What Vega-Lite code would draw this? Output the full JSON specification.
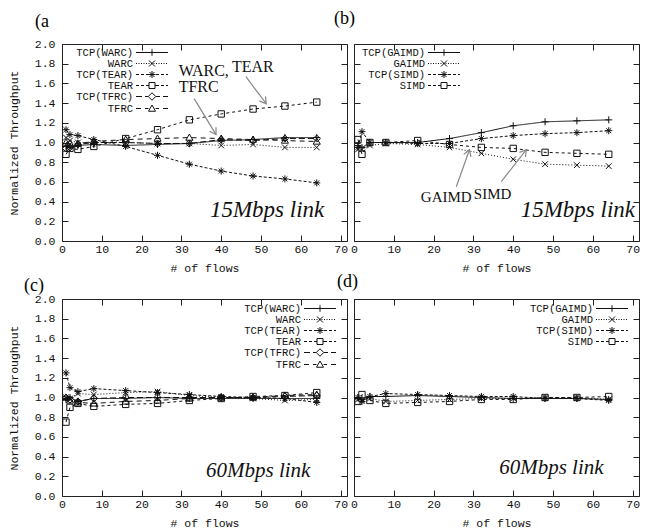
{
"$schema": "https://vega.github.io/schema/vega-lite/v6.json",
"background": "white",
"padding": {"left": 7, "top": 9, "right": 0, "bottom": 0},
"config": {
  "view": {"stroke": "#222", "strokeWidth": 1},
  "font": "Liberation Mono",
  "axis": {"domain": false, "grid": false, "tickColor": "#222", "tickSize": -6, "tickWidth": 1, "labelFont": "Liberation Mono", "labelFontSize": 11.5, "labelColor": "#111", "titleFont": "Liberation Mono", "titleFontSize": 11.5, "titleFontWeight": "normal", "titleColor": "#111", "labelFlush": false, "labelOverlap": false},
  "axisX": {"labelPadding": 8.5, "titlePadding": 7},
  "axisY": {"labelPadding": 13, "titlePadding": 15},
  "title": {"font": "Liberation Serif", "fontSize": 18, "fontWeight": "normal", "anchor": "start", "frame": "group", "color": "#000", "offset": 7},
  "legend": {"padding": 0, "labelFont": "Liberation Mono", "labelFontSize": 10.5, "labelColor": "#111", "labelAlign": "right", "labelOffset": -24.5, "symbolSize": 100, "symbolStrokeWidth": 1, "symbolOffset": 0, "rowPadding": -2, "symbolFillColor": "transparent", "symbolStrokeColor": "#111"}
},
"datasets": {
  "tp": [
    {"panel":"a","series":"TCP(WARC)","x":1,"y":0.96},{"panel":"a","series":"TCP(WARC)","x":2,"y":0.95},{"panel":"a","series":"TCP(WARC)","x":4,"y":0.97},{"panel":"a","series":"TCP(WARC)","x":8,"y":0.98},{"panel":"a","series":"TCP(WARC)","x":16,"y":0.97},{"panel":"a","series":"TCP(WARC)","x":24,"y":0.98},{"panel":"a","series":"TCP(WARC)","x":32,"y":0.99},{"panel":"a","series":"TCP(WARC)","x":40,"y":1.02},{"panel":"a","series":"TCP(WARC)","x":48,"y":1.03},{"panel":"a","series":"TCP(WARC)","x":56,"y":1.05},{"panel":"a","series":"TCP(WARC)","x":64,"y":1.05},
    {"panel":"a","series":"WARC","x":1,"y":1.05},{"panel":"a","series":"WARC","x":2,"y":1.02},{"panel":"a","series":"WARC","x":4,"y":1.0},{"panel":"a","series":"WARC","x":8,"y":1.0},{"panel":"a","series":"WARC","x":16,"y":1.0},{"panel":"a","series":"WARC","x":24,"y":0.99},{"panel":"a","series":"WARC","x":32,"y":0.99},{"panel":"a","series":"WARC","x":40,"y":0.97},{"panel":"a","series":"WARC","x":48,"y":0.98},{"panel":"a","series":"WARC","x":56,"y":0.95},{"panel":"a","series":"WARC","x":64,"y":0.95},
    {"panel":"a","series":"TCP(TEAR)","x":1,"y":1.13},{"panel":"a","series":"TCP(TEAR)","x":2,"y":1.08},{"panel":"a","series":"TCP(TEAR)","x":4,"y":1.07},{"panel":"a","series":"TCP(TEAR)","x":8,"y":1.03},{"panel":"a","series":"TCP(TEAR)","x":16,"y":0.96},{"panel":"a","series":"TCP(TEAR)","x":24,"y":0.87},{"panel":"a","series":"TCP(TEAR)","x":32,"y":0.78},{"panel":"a","series":"TCP(TEAR)","x":40,"y":0.71},{"panel":"a","series":"TCP(TEAR)","x":48,"y":0.66},{"panel":"a","series":"TCP(TEAR)","x":56,"y":0.63},{"panel":"a","series":"TCP(TEAR)","x":64,"y":0.59},
    {"panel":"a","series":"TEAR","x":1,"y":0.88},{"panel":"a","series":"TEAR","x":2,"y":0.94},{"panel":"a","series":"TEAR","x":4,"y":0.93},{"panel":"a","series":"TEAR","x":8,"y":0.96},{"panel":"a","series":"TEAR","x":16,"y":1.04},{"panel":"a","series":"TEAR","x":24,"y":1.13},{"panel":"a","series":"TEAR","x":32,"y":1.23},{"panel":"a","series":"TEAR","x":40,"y":1.29},{"panel":"a","series":"TEAR","x":48,"y":1.34},{"panel":"a","series":"TEAR","x":56,"y":1.37},{"panel":"a","series":"TEAR","x":64,"y":1.41},
    {"panel":"a","series":"TCP(TFRC)","x":1,"y":0.94},{"panel":"a","series":"TCP(TFRC)","x":2,"y":0.95},{"panel":"a","series":"TCP(TFRC)","x":4,"y":0.98},{"panel":"a","series":"TCP(TFRC)","x":8,"y":1.0},{"panel":"a","series":"TCP(TFRC)","x":16,"y":1.0},{"panel":"a","series":"TCP(TFRC)","x":24,"y":0.99},{"panel":"a","series":"TCP(TFRC)","x":32,"y":0.99},{"panel":"a","series":"TCP(TFRC)","x":40,"y":1.03},{"panel":"a","series":"TCP(TFRC)","x":48,"y":1.02},{"panel":"a","series":"TCP(TFRC)","x":56,"y":1.04},{"panel":"a","series":"TCP(TFRC)","x":64,"y":1.04},
    {"panel":"a","series":"TFRC","x":1,"y":1.0},{"panel":"a","series":"TFRC","x":2,"y":0.99},{"panel":"a","series":"TFRC","x":4,"y":0.99},{"panel":"a","series":"TFRC","x":8,"y":1.01},{"panel":"a","series":"TFRC","x":16,"y":1.03},{"panel":"a","series":"TFRC","x":24,"y":1.04},{"panel":"a","series":"TFRC","x":32,"y":1.05},{"panel":"a","series":"TFRC","x":40,"y":1.04},{"panel":"a","series":"TFRC","x":48,"y":1.03},{"panel":"a","series":"TFRC","x":56,"y":1.02},{"panel":"a","series":"TFRC","x":64,"y":1.01},
    {"panel":"b","series":"TCP(GAIMD)","x":1,"y":0.97},{"panel":"b","series":"TCP(GAIMD)","x":2,"y":0.95},{"panel":"b","series":"TCP(GAIMD)","x":4,"y":1.0},{"panel":"b","series":"TCP(GAIMD)","x":8,"y":1.0},{"panel":"b","series":"TCP(GAIMD)","x":16,"y":1.0},{"panel":"b","series":"TCP(GAIMD)","x":24,"y":1.04},{"panel":"b","series":"TCP(GAIMD)","x":32,"y":1.1},{"panel":"b","series":"TCP(GAIMD)","x":40,"y":1.17},{"panel":"b","series":"TCP(GAIMD)","x":48,"y":1.21},{"panel":"b","series":"TCP(GAIMD)","x":56,"y":1.22},{"panel":"b","series":"TCP(GAIMD)","x":64,"y":1.23},
    {"panel":"b","series":"GAIMD","x":1,"y":0.93},{"panel":"b","series":"GAIMD","x":2,"y":0.93},{"panel":"b","series":"GAIMD","x":4,"y":0.97},{"panel":"b","series":"GAIMD","x":8,"y":0.99},{"panel":"b","series":"GAIMD","x":16,"y":0.98},{"panel":"b","series":"GAIMD","x":24,"y":0.95},{"panel":"b","series":"GAIMD","x":32,"y":0.89},{"panel":"b","series":"GAIMD","x":40,"y":0.83},{"panel":"b","series":"GAIMD","x":48,"y":0.78},{"panel":"b","series":"GAIMD","x":56,"y":0.77},{"panel":"b","series":"GAIMD","x":64,"y":0.76},
    {"panel":"b","series":"TCP(SIMD)","x":1,"y":0.95},{"panel":"b","series":"TCP(SIMD)","x":2,"y":1.11},{"panel":"b","series":"TCP(SIMD)","x":4,"y":1.0},{"panel":"b","series":"TCP(SIMD)","x":8,"y":1.0},{"panel":"b","series":"TCP(SIMD)","x":16,"y":0.99},{"panel":"b","series":"TCP(SIMD)","x":24,"y":0.99},{"panel":"b","series":"TCP(SIMD)","x":32,"y":1.04},{"panel":"b","series":"TCP(SIMD)","x":40,"y":1.07},{"panel":"b","series":"TCP(SIMD)","x":48,"y":1.09},{"panel":"b","series":"TCP(SIMD)","x":56,"y":1.1},{"panel":"b","series":"TCP(SIMD)","x":64,"y":1.12},
    {"panel":"b","series":"SIMD","x":1,"y":1.03},{"panel":"b","series":"SIMD","x":2,"y":0.88},{"panel":"b","series":"SIMD","x":4,"y":1.0},{"panel":"b","series":"SIMD","x":8,"y":1.0},{"panel":"b","series":"SIMD","x":16,"y":1.02},{"panel":"b","series":"SIMD","x":24,"y":0.98},{"panel":"b","series":"SIMD","x":32,"y":0.95},{"panel":"b","series":"SIMD","x":40,"y":0.94},{"panel":"b","series":"SIMD","x":48,"y":0.9},{"panel":"b","series":"SIMD","x":56,"y":0.89},{"panel":"b","series":"SIMD","x":64,"y":0.88},
    {"panel":"c","series":"TCP(WARC)","x":1,"y":0.98},{"panel":"c","series":"TCP(WARC)","x":2,"y":1.0},{"panel":"c","series":"TCP(WARC)","x":4,"y":0.96},{"panel":"c","series":"TCP(WARC)","x":8,"y":0.99},{"panel":"c","series":"TCP(WARC)","x":16,"y":0.99},{"panel":"c","series":"TCP(WARC)","x":24,"y":1.0},{"panel":"c","series":"TCP(WARC)","x":32,"y":0.99},{"panel":"c","series":"TCP(WARC)","x":40,"y":0.99},{"panel":"c","series":"TCP(WARC)","x":48,"y":0.99},{"panel":"c","series":"TCP(WARC)","x":56,"y":0.99},{"panel":"c","series":"TCP(WARC)","x":64,"y":0.99},
    {"panel":"c","series":"WARC","x":1,"y":1.0},{"panel":"c","series":"WARC","x":2,"y":0.99},{"panel":"c","series":"WARC","x":4,"y":1.04},{"panel":"c","series":"WARC","x":8,"y":1.03},{"panel":"c","series":"WARC","x":16,"y":1.05},{"panel":"c","series":"WARC","x":24,"y":1.06},{"panel":"c","series":"WARC","x":32,"y":1.02},{"panel":"c","series":"WARC","x":40,"y":1.0},{"panel":"c","series":"WARC","x":48,"y":0.99},{"panel":"c","series":"WARC","x":56,"y":0.97},{"panel":"c","series":"WARC","x":64,"y":0.98},
    {"panel":"c","series":"TCP(TEAR)","x":1,"y":1.25},{"panel":"c","series":"TCP(TEAR)","x":2,"y":1.1},{"panel":"c","series":"TCP(TEAR)","x":4,"y":1.06},{"panel":"c","series":"TCP(TEAR)","x":8,"y":1.09},{"panel":"c","series":"TCP(TEAR)","x":16,"y":1.07},{"panel":"c","series":"TCP(TEAR)","x":24,"y":1.05},{"panel":"c","series":"TCP(TEAR)","x":32,"y":1.03},{"panel":"c","series":"TCP(TEAR)","x":40,"y":1.01},{"panel":"c","series":"TCP(TEAR)","x":48,"y":1.0},{"panel":"c","series":"TCP(TEAR)","x":56,"y":0.99},{"panel":"c","series":"TCP(TEAR)","x":64,"y":0.95},
    {"panel":"c","series":"TEAR","x":1,"y":0.75},{"panel":"c","series":"TEAR","x":2,"y":0.9},{"panel":"c","series":"TEAR","x":4,"y":0.94},{"panel":"c","series":"TEAR","x":8,"y":0.91},{"panel":"c","series":"TEAR","x":16,"y":0.93},{"panel":"c","series":"TEAR","x":24,"y":0.94},{"panel":"c","series":"TEAR","x":32,"y":0.97},{"panel":"c","series":"TEAR","x":40,"y":0.99},{"panel":"c","series":"TEAR","x":48,"y":1.01},{"panel":"c","series":"TEAR","x":56,"y":1.02},{"panel":"c","series":"TEAR","x":64,"y":1.05},
    {"panel":"c","series":"TCP(TFRC)","x":1,"y":1.0},{"panel":"c","series":"TCP(TFRC)","x":2,"y":0.98},{"panel":"c","series":"TCP(TFRC)","x":4,"y":0.96},{"panel":"c","series":"TCP(TFRC)","x":8,"y":0.99},{"panel":"c","series":"TCP(TFRC)","x":16,"y":1.0},{"panel":"c","series":"TCP(TFRC)","x":24,"y":1.0},{"panel":"c","series":"TCP(TFRC)","x":32,"y":1.0},{"panel":"c","series":"TCP(TFRC)","x":40,"y":1.0},{"panel":"c","series":"TCP(TFRC)","x":48,"y":1.0},{"panel":"c","series":"TCP(TFRC)","x":56,"y":1.01},{"panel":"c","series":"TCP(TFRC)","x":64,"y":1.02},
    {"panel":"c","series":"TFRC","x":1,"y":1.0},{"panel":"c","series":"TFRC","x":2,"y":0.97},{"panel":"c","series":"TFRC","x":4,"y":0.95},{"panel":"c","series":"TFRC","x":8,"y":0.94},{"panel":"c","series":"TFRC","x":16,"y":0.96},{"panel":"c","series":"TFRC","x":24,"y":0.97},{"panel":"c","series":"TFRC","x":32,"y":0.99},{"panel":"c","series":"TFRC","x":40,"y":1.0},{"panel":"c","series":"TFRC","x":48,"y":1.0},{"panel":"c","series":"TFRC","x":56,"y":1.02},{"panel":"c","series":"TFRC","x":64,"y":1.03},
    {"panel":"d","series":"TCP(GAIMD)","x":1,"y":1.0},{"panel":"d","series":"TCP(GAIMD)","x":2,"y":0.98},{"panel":"d","series":"TCP(GAIMD)","x":4,"y":1.01},{"panel":"d","series":"TCP(GAIMD)","x":8,"y":1.01},{"panel":"d","series":"TCP(GAIMD)","x":16,"y":1.02},{"panel":"d","series":"TCP(GAIMD)","x":24,"y":1.01},{"panel":"d","series":"TCP(GAIMD)","x":32,"y":1.0},{"panel":"d","series":"TCP(GAIMD)","x":40,"y":0.99},{"panel":"d","series":"TCP(GAIMD)","x":48,"y":0.99},{"panel":"d","series":"TCP(GAIMD)","x":56,"y":0.99},{"panel":"d","series":"TCP(GAIMD)","x":64,"y":0.98},
    {"panel":"d","series":"GAIMD","x":1,"y":0.98},{"panel":"d","series":"GAIMD","x":2,"y":0.97},{"panel":"d","series":"GAIMD","x":4,"y":0.99},{"panel":"d","series":"GAIMD","x":8,"y":0.96},{"panel":"d","series":"GAIMD","x":16,"y":0.97},{"panel":"d","series":"GAIMD","x":24,"y":0.98},{"panel":"d","series":"GAIMD","x":32,"y":0.99},{"panel":"d","series":"GAIMD","x":40,"y":0.99},{"panel":"d","series":"GAIMD","x":48,"y":1.0},{"panel":"d","series":"GAIMD","x":56,"y":1.0},{"panel":"d","series":"GAIMD","x":64,"y":0.98},
    {"panel":"d","series":"TCP(SIMD)","x":1,"y":1.0},{"panel":"d","series":"TCP(SIMD)","x":2,"y":0.96},{"panel":"d","series":"TCP(SIMD)","x":4,"y":1.01},{"panel":"d","series":"TCP(SIMD)","x":8,"y":1.04},{"panel":"d","series":"TCP(SIMD)","x":16,"y":1.03},{"panel":"d","series":"TCP(SIMD)","x":24,"y":1.02},{"panel":"d","series":"TCP(SIMD)","x":32,"y":1.01},{"panel":"d","series":"TCP(SIMD)","x":40,"y":1.01},{"panel":"d","series":"TCP(SIMD)","x":48,"y":0.99},{"panel":"d","series":"TCP(SIMD)","x":56,"y":0.99},{"panel":"d","series":"TCP(SIMD)","x":64,"y":0.97},
    {"panel":"d","series":"SIMD","x":1,"y":0.96},{"panel":"d","series":"SIMD","x":2,"y":1.03},{"panel":"d","series":"SIMD","x":4,"y":0.97},{"panel":"d","series":"SIMD","x":8,"y":0.94},{"panel":"d","series":"SIMD","x":16,"y":0.95},{"panel":"d","series":"SIMD","x":24,"y":0.96},{"panel":"d","series":"SIMD","x":32,"y":0.98},{"panel":"d","series":"SIMD","x":40,"y":0.98},{"panel":"d","series":"SIMD","x":48,"y":1.0},{"panel":"d","series":"SIMD","x":56,"y":1.0},{"panel":"d","series":"SIMD","x":64,"y":1.01}
  ],
  "notes": [
    {"panel":"a","text":"WARC,","x":29.3,"y":1.68},
    {"panel":"a","text":"TEAR","x":42.7,"y":1.72},
    {"panel":"a","text":"TFRC","x":29.3,"y":1.51},
    {"panel":"b","text":"GAIMD","x":16.8,"y":0.40},
    {"panel":"b","text":"SIMD","x":30.1,"y":0.43}
  ],
  "links": [
    {"panel":"a","text":"15Mbps link","x":65.9,"y":0.245},
    {"panel":"b","text":"15Mbps link","x":70.6,"y":0.24},
    {"panel":"c","text":"60Mbps link","x":62.4,"y":0.195},
    {"panel":"d","text":"60Mbps link","x":62.7,"y":0.22}
  ],
  "arrows": [
    {"panel":"a","x":33.2,"y":1.445,"x2":38.7,"y2":1.08,"angle":58.6},
    {"panel":"a","x":46.2,"y":1.668,"x2":51.3,"y2":1.394,"angle":53.5},
    {"panel":"b","x":25.7,"y":0.551,"x2":29.0,"y2":0.927,"angle":-70.6},
    {"panel":"b","x":37.0,"y":0.602,"x2":43.3,"y2":0.927,"angle":-52.0}
  ]
},
"columns": 2,
"spacing": {"row": 58, "column": 7},
"bounds": "flush",
"concat": [
 {
  "width": 285, "height": 197,
  "title": {"text": "(a", "anchor": "start", "frame": "group", "dx": -27},
  "resolve": {"scale": {"shape": "independent"}, "axis": {"x": "independent", "y": "independent"}},
  "layer": [
   {"data": {"name": "tp"}, "transform": [{"filter": "datum.panel === 'a'"}],
    "mark": {"type": "line", "color": "#111", "strokeWidth": 1},
    "encoding": {
      "x": {"field": "x", "type": "quantitative", "scale": {"domain": [0, 71.6], "nice": false, "zero": false}, "axis": {"values": [0,10,20,30,40,50,60,70], "title": "# of flows"}},
      "y": {"field": "y", "type": "quantitative", "scale": {"domain": [0, 2], "nice": false}, "axis": {"values": [0,0.2,0.4,0.6,0.8,1.0,1.2,1.4,1.6,1.8,2.0], "format": ".1f", "title": "Normalized Throughput"}},
      "strokeDash": {"field": "series", "type": "nominal", "scale": {"domain": ["TCP(WARC)","WARC","TCP(TEAR)","TEAR","TCP(TFRC)","TFRC"], "range": [[1,0],[1,2],[3,2],[3,3],[6,3],[5,4]]}, "legend": null}
    }},
   {"data": {"name": "tp"}, "transform": [{"filter": "datum.panel === 'a'"}],
    "mark": {"type": "point", "filled": false, "color": "#111", "strokeWidth": 1, "opacity": 1, "size": 50},
    "encoding": {
      "x": {"field": "x", "type": "quantitative", "scale": {"domain": [0, 71.6], "nice": false, "zero": false}, "axis": {"orient": "top", "values": [0,10,20,30,40,50,60,70], "labels": false, "title": null}},
      "y": {"field": "y", "type": "quantitative", "scale": {"domain": [0, 2], "nice": false}, "axis": {"orient": "right", "values": [0,0.2,0.4,0.6,0.8,1.0,1.2,1.4,1.6,1.8,2.0], "labels": false, "title": null}},
      "shape": {"field": "series", "type": "nominal", "scale": {"domain": ["TCP(WARC)","WARC","TCP(TEAR)","TEAR","TCP(TFRC)","TFRC"], "range": ["M-1,0L1,0M0,-1L0,1","M-0.8,-0.8L0.8,0.8M-0.8,0.8L0.8,-0.8","M-1,0L1,0M0,-1L0,1M-0.7,-0.7L0.7,0.7M-0.7,0.7L0.7,-0.7","M-0.9,-0.9L0.9,-0.9L0.9,0.9L-0.9,0.9Z","M0,-1L1,0L0,1L-1,0Z","M0,-1L1,0.75L-1,0.75Z"]}, "legend": null}
    }},
   {"data": {"name": "tp"}, "transform": [{"filter": "datum.x < 0"}],
    "mark": {"type": "point", "filled": false, "color": "#111", "strokeWidth": 1, "opacity": 1},
    "encoding": {
      "x": {"field": "x", "type": "quantitative", "scale": {"domain": [0, 71.6], "nice": false, "zero": false}, "axis": null},
      "y": {"field": "y", "type": "quantitative", "scale": {"domain": [0, 2], "nice": false}, "axis": null},
      "shape": {"field": "series", "type": "nominal", "scale": {"domain": ["TCP(WARC)","WARC","TCP(TEAR)","TEAR","TCP(TFRC)","TFRC"], "range": [
        "M-3.2,0L3.2,0M0,-0.65L0,0.65",
        "M-3.2,0L-3,0M-2.7,0L-2.5,0M-2.2,0L-2,0M-1.7,0L-1.5,0M-1.2,0L-1,0M-0.7,0L-0.5,0M-0.2,0L0,0M0.3,0L0.5,0M0.8,0L1,0M1.3,0L1.5,0M1.8,0L2,0M2.3,0L2.5,0M2.8,0L3,0M-0.6,-0.6L0.6,0.6M-0.6,0.6L0.6,-0.6",
        "M-3.2,0L-2.6,0M-2.2,0L-1.6,0M-1.2,0L-0.6,0M-0.2,0L0.4,0M0.8,0L1.4,0M1.8,0L2.4,0M2.8,0L3.2,0M-0.7,0L0.7,0M0,-0.7L0,0.7M-0.5,-0.5L0.5,0.5M-0.5,0.5L0.5,-0.5",
        "M-3.2,0L-2.6,0M-2.2,0L-1.6,0M-1.2,0L-0.6,0M0.6,0L1.4,0M1.8,0L2.4,0M2.8,0L3.2,0M-0.6,-0.6L0.6,-0.6L0.6,0.6L-0.6,0.6Z",
        "M-3.2,0L-2,0M-1.4,0L-0.75,0M0.75,0L1.6,0M2.2,0L3.2,0M0,-0.75L0.75,0L0,0.75L-0.75,0Z",
        "M-3.2,0L-2.2,0M-1.4,0L-0.7,0M0.7,0L1.4,0M2.2,0L3.2,0M0,-0.7L0.7,0.55L-0.7,0.55Z"]},
        "legend": {"title": null, "orient": "none", "legendX": 84.5, "legendY": 3}}
    }},
   {"data": {"name": "arrows"}, "transform": [{"filter": "datum.panel === 'a'"}],
    "mark": {"type": "rule", "color": "#888", "strokeWidth": 1.2},
    "encoding": {
      "x": {"field": "x", "type": "quantitative", "scale": {"domain": [0, 71.6], "nice": false, "zero": false}, "axis": null},
      "y": {"field": "y", "type": "quantitative", "scale": {"domain": [0, 2], "nice": false}, "axis": null},
      "x2": {"field": "x2"}, "y2": {"field": "y2"}
    }},
   {"data": {"name": "arrows"}, "transform": [{"filter": "datum.panel === 'a'"}],
    "mark": {"type": "point", "shape": "M-1,-0.6L0,0L-1,0.6", "filled": false, "color": "#888", "strokeWidth": 1.2, "size": 160, "opacity": 1},
    "encoding": {
      "x": {"field": "x2", "type": "quantitative", "scale": {"domain": [0, 71.6], "nice": false, "zero": false}, "axis": null},
      "y": {"field": "y2", "type": "quantitative", "scale": {"domain": [0, 2], "nice": false}, "axis": null},
      "angle": {"field": "angle", "type": "quantitative", "scale": null}
    }},
   {"data": {"name": "notes"}, "transform": [{"filter": "datum.panel === 'a'"}],
    "mark": {"type": "text", "font": "Liberation Serif", "fontSize": 16, "align": "left", "baseline": "alphabetic", "color": "#111"},
    "encoding": {
      "x": {"field": "x", "type": "quantitative", "scale": {"domain": [0, 71.6], "nice": false, "zero": false}, "axis": null},
      "y": {"field": "y", "type": "quantitative", "scale": {"domain": [0, 2], "nice": false}, "axis": null},
      "text": {"field": "text"}
    }},
   {"data": {"name": "links"}, "transform": [{"filter": "datum.panel === 'a'"}],
    "mark": {"type": "text", "font": "Liberation Serif", "fontStyle": "italic", "fontSize": 23, "align": "right", "baseline": "alphabetic", "color": "#111"},
    "encoding": {
      "x": {"field": "x", "type": "quantitative", "scale": {"domain": [0, 71.6], "nice": false, "zero": false}, "axis": null},
      "y": {"field": "y", "type": "quantitative", "scale": {"domain": [0, 2], "nice": false}, "axis": null},
      "text": {"field": "text"}
    }}
  ]
 },
 {
  "width": 285, "height": 197,
  "title": {"text": "(b)", "anchor": "start", "frame": "group", "dx": -20, "offset": 16},
  "resolve": {"scale": {"shape": "independent"}, "axis": {"x": "independent", "y": "independent"}},
  "layer": [
   {"data": {"name": "tp"}, "transform": [{"filter": "datum.panel === 'b'"}],
    "mark": {"type": "line", "color": "#111", "strokeWidth": 1},
    "encoding": {
      "x": {"field": "x", "type": "quantitative", "scale": {"domain": [0, 71.6], "nice": false, "zero": false}, "axis": {"values": [0,10,20,30,40,50,60,70], "title": "# of flows"}},
      "y": {"field": "y", "type": "quantitative", "scale": {"domain": [0, 2], "nice": false}, "axis": {"values": [0,0.2,0.4,0.6,0.8,1.0,1.2,1.4,1.6,1.8,2.0], "labels": false, "title": null}},
      "strokeDash": {"field": "series", "type": "nominal", "scale": {"domain": ["TCP(GAIMD)","GAIMD","TCP(SIMD)","SIMD"], "range": [[1,0],[1,2],[3,2],[3,3]]}, "legend": null}
    }},
   {"data": {"name": "tp"}, "transform": [{"filter": "datum.panel === 'b'"}],
    "mark": {"type": "point", "filled": false, "color": "#111", "strokeWidth": 1, "opacity": 1, "size": 50},
    "encoding": {
      "x": {"field": "x", "type": "quantitative", "scale": {"domain": [0, 71.6], "nice": false, "zero": false}, "axis": {"orient": "top", "values": [0,10,20,30,40,50,60,70], "labels": false, "title": null}},
      "y": {"field": "y", "type": "quantitative", "scale": {"domain": [0, 2], "nice": false}, "axis": {"orient": "right", "values": [0,0.2,0.4,0.6,0.8,1.0,1.2,1.4,1.6,1.8,2.0], "labels": false, "title": null}},
      "shape": {"field": "series", "type": "nominal", "scale": {"domain": ["TCP(GAIMD)","GAIMD","TCP(SIMD)","SIMD"], "range": ["M-1,0L1,0M0,-1L0,1","M-0.8,-0.8L0.8,0.8M-0.8,0.8L0.8,-0.8","M-1,0L1,0M0,-1L0,1M-0.7,-0.7L0.7,0.7M-0.7,0.7L0.7,-0.7","M-0.9,-0.9L0.9,-0.9L0.9,0.9L-0.9,0.9Z"]}, "legend": null}
    }},
   {"data": {"name": "tp"}, "transform": [{"filter": "datum.x < 0"}],
    "mark": {"type": "point", "filled": false, "color": "#111", "strokeWidth": 1, "opacity": 1},
    "encoding": {
      "x": {"field": "x", "type": "quantitative", "scale": {"domain": [0, 71.6], "nice": false, "zero": false}, "axis": null},
      "y": {"field": "y", "type": "quantitative", "scale": {"domain": [0, 2], "nice": false}, "axis": null},
      "shape": {"field": "series", "type": "nominal", "scale": {"domain": ["TCP(GAIMD)","GAIMD","TCP(SIMD)","SIMD"], "range": [
        "M-3.2,0L3.2,0M0,-0.65L0,0.65",
        "M-3.2,0L-3,0M-2.7,0L-2.5,0M-2.2,0L-2,0M-1.7,0L-1.5,0M-1.2,0L-1,0M-0.7,0L-0.5,0M-0.2,0L0,0M0.3,0L0.5,0M0.8,0L1,0M1.3,0L1.5,0M1.8,0L2,0M2.3,0L2.5,0M2.8,0L3,0M-0.6,-0.6L0.6,0.6M-0.6,0.6L0.6,-0.6",
        "M-3.2,0L-2.6,0M-2.2,0L-1.6,0M-1.2,0L-0.6,0M-0.2,0L0.4,0M0.8,0L1.4,0M1.8,0L2.4,0M2.8,0L3.2,0M-0.7,0L0.7,0M0,-0.7L0,0.7M-0.5,-0.5L0.5,0.5M-0.5,0.5L0.5,-0.5",
        "M-3.2,0L-2.6,0M-2.2,0L-1.6,0M-1.2,0L-0.6,0M0.6,0L1.4,0M1.8,0L2.4,0M2.8,0L3.2,0M-0.6,-0.6L0.6,-0.6L0.6,0.6L-0.6,0.6Z"]},
        "legend": {"title": null, "orient": "none", "legendX": 84.5, "legendY": 3}}
    }},
   {"data": {"name": "arrows"}, "transform": [{"filter": "datum.panel === 'b'"}],
    "mark": {"type": "rule", "color": "#888", "strokeWidth": 1.2},
    "encoding": {
      "x": {"field": "x", "type": "quantitative", "scale": {"domain": [0, 71.6], "nice": false, "zero": false}, "axis": null},
      "y": {"field": "y", "type": "quantitative", "scale": {"domain": [0, 2], "nice": false}, "axis": null},
      "x2": {"field": "x2"}, "y2": {"field": "y2"}
    }},
   {"data": {"name": "arrows"}, "transform": [{"filter": "datum.panel === 'b'"}],
    "mark": {"type": "point", "shape": "M-1,-0.6L0,0L-1,0.6", "filled": false, "color": "#888", "strokeWidth": 1.2, "size": 160, "opacity": 1},
    "encoding": {
      "x": {"field": "x2", "type": "quantitative", "scale": {"domain": [0, 71.6], "nice": false, "zero": false}, "axis": null},
      "y": {"field": "y2", "type": "quantitative", "scale": {"domain": [0, 2], "nice": false}, "axis": null},
      "angle": {"field": "angle", "type": "quantitative", "scale": null}
    }},
   {"data": {"name": "notes"}, "transform": [{"filter": "datum.panel === 'b'"}],
    "mark": {"type": "text", "font": "Liberation Serif", "fontSize": 15, "align": "left", "baseline": "alphabetic", "color": "#111"},
    "encoding": {
      "x": {"field": "x", "type": "quantitative", "scale": {"domain": [0, 71.6], "nice": false, "zero": false}, "axis": null},
      "y": {"field": "y", "type": "quantitative", "scale": {"domain": [0, 2], "nice": false}, "axis": null},
      "text": {"field": "text"}
    }},
   {"data": {"name": "links"}, "transform": [{"filter": "datum.panel === 'b'"}],
    "mark": {"type": "text", "font": "Liberation Serif", "fontStyle": "italic", "fontSize": 23, "align": "right", "baseline": "alphabetic", "color": "#111"},
    "encoding": {
      "x": {"field": "x", "type": "quantitative", "scale": {"domain": [0, 71.6], "nice": false, "zero": false}, "axis": null},
      "y": {"field": "y", "type": "quantitative", "scale": {"domain": [0, 2], "nice": false}, "axis": null},
      "text": {"field": "text"}
    }}
  ]
 },
 {
  "width": 285, "height": 197,
  "title": {"text": "(c)", "anchor": "start", "frame": "group", "dx": -38, "offset": -2},
  "resolve": {"scale": {"shape": "independent"}, "axis": {"x": "independent", "y": "independent"}},
  "layer": [
   {"data": {"name": "tp"}, "transform": [{"filter": "datum.panel === 'c'"}],
    "mark": {"type": "line", "color": "#111", "strokeWidth": 1},
    "encoding": {
      "x": {"field": "x", "type": "quantitative", "scale": {"domain": [0, 71.6], "nice": false, "zero": false}, "axis": {"values": [0,10,20,30,40,50,60,70], "title": "# of flows"}},
      "y": {"field": "y", "type": "quantitative", "scale": {"domain": [0, 2], "nice": false}, "axis": {"values": [0,0.2,0.4,0.6,0.8,1.0,1.2,1.4,1.6,1.8,2.0], "format": ".1f", "title": "Normalized Throughput"}},
      "strokeDash": {"field": "series", "type": "nominal", "scale": {"domain": ["TCP(WARC)","WARC","TCP(TEAR)","TEAR","TCP(TFRC)","TFRC"], "range": [[1,0],[1,2],[3,2],[3,3],[6,3],[5,4]]}, "legend": null}
    }},
   {"data": {"name": "tp"}, "transform": [{"filter": "datum.panel === 'c'"}],
    "mark": {"type": "point", "filled": false, "color": "#111", "strokeWidth": 1, "opacity": 1, "size": 50},
    "encoding": {
      "x": {"field": "x", "type": "quantitative", "scale": {"domain": [0, 71.6], "nice": false, "zero": false}, "axis": {"orient": "top", "values": [0,10,20,30,40,50,60,70], "labels": false, "title": null}},
      "y": {"field": "y", "type": "quantitative", "scale": {"domain": [0, 2], "nice": false}, "axis": {"orient": "right", "values": [0,0.2,0.4,0.6,0.8,1.0,1.2,1.4,1.6,1.8,2.0], "labels": false, "title": null}},
      "shape": {"field": "series", "type": "nominal", "scale": {"domain": ["TCP(WARC)","WARC","TCP(TEAR)","TEAR","TCP(TFRC)","TFRC"], "range": ["M-1,0L1,0M0,-1L0,1","M-0.8,-0.8L0.8,0.8M-0.8,0.8L0.8,-0.8","M-1,0L1,0M0,-1L0,1M-0.7,-0.7L0.7,0.7M-0.7,0.7L0.7,-0.7","M-0.9,-0.9L0.9,-0.9L0.9,0.9L-0.9,0.9Z","M0,-1L1,0L0,1L-1,0Z","M0,-1L1,0.75L-1,0.75Z"]}, "legend": null}
    }},
   {"data": {"name": "tp"}, "transform": [{"filter": "datum.x < 0"}],
    "mark": {"type": "point", "filled": false, "color": "#111", "strokeWidth": 1, "opacity": 1},
    "encoding": {
      "x": {"field": "x", "type": "quantitative", "scale": {"domain": [0, 71.6], "nice": false, "zero": false}, "axis": null},
      "y": {"field": "y", "type": "quantitative", "scale": {"domain": [0, 2], "nice": false}, "axis": null},
      "shape": {"field": "series", "type": "nominal", "scale": {"domain": ["TCP(WARC)","WARC","TCP(TEAR)","TEAR","TCP(TFRC)","TFRC"], "range": [
        "M-3.2,0L3.2,0M0,-0.65L0,0.65",
        "M-3.2,0L-3,0M-2.7,0L-2.5,0M-2.2,0L-2,0M-1.7,0L-1.5,0M-1.2,0L-1,0M-0.7,0L-0.5,0M-0.2,0L0,0M0.3,0L0.5,0M0.8,0L1,0M1.3,0L1.5,0M1.8,0L2,0M2.3,0L2.5,0M2.8,0L3,0M-0.6,-0.6L0.6,0.6M-0.6,0.6L0.6,-0.6",
        "M-3.2,0L-2.6,0M-2.2,0L-1.6,0M-1.2,0L-0.6,0M-0.2,0L0.4,0M0.8,0L1.4,0M1.8,0L2.4,0M2.8,0L3.2,0M-0.7,0L0.7,0M0,-0.7L0,0.7M-0.5,-0.5L0.5,0.5M-0.5,0.5L0.5,-0.5",
        "M-3.2,0L-2.6,0M-2.2,0L-1.6,0M-1.2,0L-0.6,0M0.6,0L1.4,0M1.8,0L2.4,0M2.8,0L3.2,0M-0.6,-0.6L0.6,-0.6L0.6,0.6L-0.6,0.6Z",
        "M-3.2,0L-2,0M-1.4,0L-0.75,0M0.75,0L1.6,0M2.2,0L3.2,0M0,-0.75L0.75,0L0,0.75L-0.75,0Z",
        "M-3.2,0L-2.2,0M-1.4,0L-0.7,0M0.7,0L1.4,0M2.2,0L3.2,0M0,-0.7L0.7,0.55L-0.7,0.55Z"]},
        "legend": {"title": null, "orient": "none", "legendX": 252.5, "legendY": 4}}
    }},
   {"data": {"name": "links"}, "transform": [{"filter": "datum.panel === 'c'"}],
    "mark": {"type": "text", "font": "Liberation Serif", "fontStyle": "italic", "fontSize": 21, "align": "right", "baseline": "alphabetic", "color": "#111"},
    "encoding": {
      "x": {"field": "x", "type": "quantitative", "scale": {"domain": [0, 71.6], "nice": false, "zero": false}, "axis": null},
      "y": {"field": "y", "type": "quantitative", "scale": {"domain": [0, 2], "nice": false}, "axis": null},
      "text": {"field": "text"}
    }}
  ]
 },
 {
  "width": 285, "height": 197,
  "title": {"text": "(d)", "anchor": "start", "frame": "group", "dx": -17, "offset": 8},
  "resolve": {"scale": {"shape": "independent"}, "axis": {"x": "independent", "y": "independent"}},
  "layer": [
   {"data": {"name": "tp"}, "transform": [{"filter": "datum.panel === 'd'"}],
    "mark": {"type": "line", "color": "#111", "strokeWidth": 1},
    "encoding": {
      "x": {"field": "x", "type": "quantitative", "scale": {"domain": [0, 71.6], "nice": false, "zero": false}, "axis": {"values": [0,10,20,30,40,50,60,70], "title": "# of flows"}},
      "y": {"field": "y", "type": "quantitative", "scale": {"domain": [0, 2], "nice": false}, "axis": {"values": [0,0.2,0.4,0.6,0.8,1.0,1.2,1.4,1.6,1.8,2.0], "labels": false, "title": null}},
      "strokeDash": {"field": "series", "type": "nominal", "scale": {"domain": ["TCP(GAIMD)","GAIMD","TCP(SIMD)","SIMD"], "range": [[1,0],[1,2],[3,2],[3,3]]}, "legend": null}
    }},
   {"data": {"name": "tp"}, "transform": [{"filter": "datum.panel === 'd'"}],
    "mark": {"type": "point", "filled": false, "color": "#111", "strokeWidth": 1, "opacity": 1, "size": 50},
    "encoding": {
      "x": {"field": "x", "type": "quantitative", "scale": {"domain": [0, 71.6], "nice": false, "zero": false}, "axis": {"orient": "top", "values": [0,10,20,30,40,50,60,70], "labels": false, "title": null}},
      "y": {"field": "y", "type": "quantitative", "scale": {"domain": [0, 2], "nice": false}, "axis": {"orient": "right", "values": [0,0.2,0.4,0.6,0.8,1.0,1.2,1.4,1.6,1.8,2.0], "labels": false, "title": null}},
      "shape": {"field": "series", "type": "nominal", "scale": {"domain": ["TCP(GAIMD)","GAIMD","TCP(SIMD)","SIMD"], "range": ["M-1,0L1,0M0,-1L0,1","M-0.8,-0.8L0.8,0.8M-0.8,0.8L0.8,-0.8","M-1,0L1,0M0,-1L0,1M-0.7,-0.7L0.7,0.7M-0.7,0.7L0.7,-0.7","M-0.9,-0.9L0.9,-0.9L0.9,0.9L-0.9,0.9Z"]}, "legend": null}
    }},
   {"data": {"name": "tp"}, "transform": [{"filter": "datum.x < 0"}],
    "mark": {"type": "point", "filled": false, "color": "#111", "strokeWidth": 1, "opacity": 1},
    "encoding": {
      "x": {"field": "x", "type": "quantitative", "scale": {"domain": [0, 71.6], "nice": false, "zero": false}, "axis": null},
      "y": {"field": "y", "type": "quantitative", "scale": {"domain": [0, 2], "nice": false}, "axis": null},
      "shape": {"field": "series", "type": "nominal", "scale": {"domain": ["TCP(GAIMD)","GAIMD","TCP(SIMD)","SIMD"], "range": [
        "M-3.2,0L3.2,0M0,-0.65L0,0.65",
        "M-3.2,0L-3,0M-2.7,0L-2.5,0M-2.2,0L-2,0M-1.7,0L-1.5,0M-1.2,0L-1,0M-0.7,0L-0.5,0M-0.2,0L0,0M0.3,0L0.5,0M0.8,0L1,0M1.3,0L1.5,0M1.8,0L2,0M2.3,0L2.5,0M2.8,0L3,0M-0.6,-0.6L0.6,0.6M-0.6,0.6L0.6,-0.6",
        "M-3.2,0L-2.6,0M-2.2,0L-1.6,0M-1.2,0L-0.6,0M-0.2,0L0.4,0M0.8,0L1.4,0M1.8,0L2.4,0M2.8,0L3.2,0M-0.7,0L0.7,0M0,-0.7L0,0.7M-0.5,-0.5L0.5,0.5M-0.5,0.5L0.5,-0.5",
        "M-3.2,0L-2.6,0M-2.2,0L-1.6,0M-1.2,0L-0.6,0M0.6,0L1.4,0M1.8,0L2.4,0M2.8,0L3.2,0M-0.6,-0.6L0.6,-0.6L0.6,0.6L-0.6,0.6Z"]},
        "legend": {"title": null, "orient": "none", "legendX": 252.5, "legendY": 4}}
    }},
   {"data": {"name": "links"}, "transform": [{"filter": "datum.panel === 'd'"}],
    "mark": {"type": "text", "font": "Liberation Serif", "fontStyle": "italic", "fontSize": 21, "align": "right", "baseline": "alphabetic", "color": "#111"},
    "encoding": {
      "x": {"field": "x", "type": "quantitative", "scale": {"domain": [0, 71.6], "nice": false, "zero": false}, "axis": null},
      "y": {"field": "y", "type": "quantitative", "scale": {"domain": [0, 2], "nice": false}, "axis": null},
      "text": {"field": "text"}
    }}
  ]
 }
]
}
